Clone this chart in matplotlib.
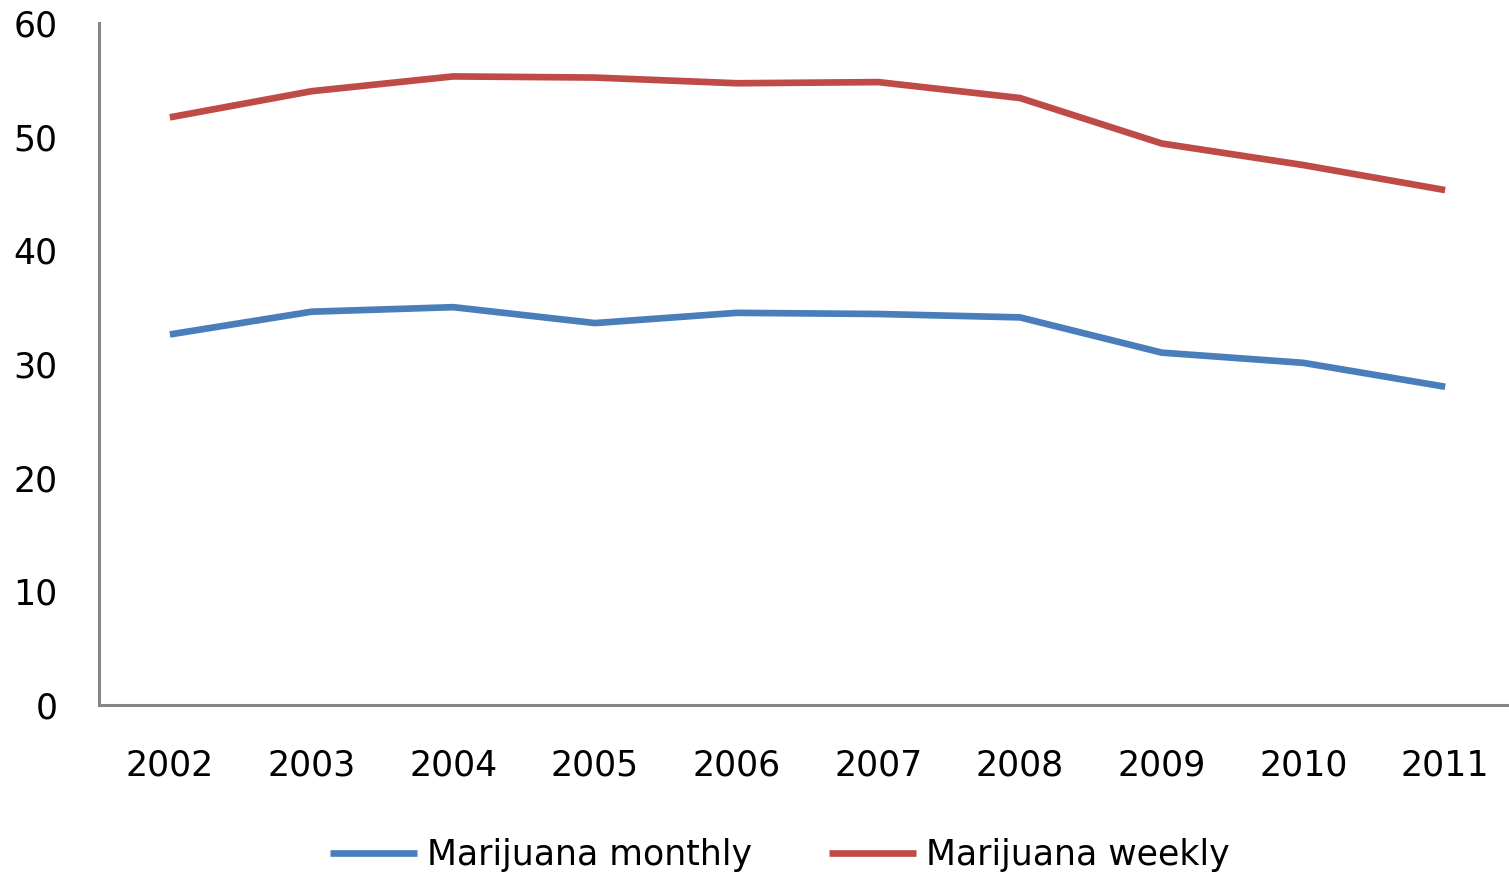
import matplotlib
matplotlib.use('Agg')
import matplotlib.pyplot as plt

years = ['2002', '2003', '2004', '2005', '2006', '2007', '2008', '2009', '2010', '2011']
monthly = [32.6, 34.6, 35.0, 33.6, 34.5, 34.4, 34.1, 31.0, 30.1, 28.0]
weekly = [51.7, 54.0, 55.3, 55.2, 54.7, 54.8, 53.4, 49.4, 47.5, 45.3]

plt.rcParams['font.family'] = ['DejaVu Sans']

fig = plt.figure(figsize=(15.09, 8.74), dpi=100)
ax = fig.add_axes([99 / 1509, 1 - 705 / 874, 1417 / 1509, (705 - 23) / 874])

x = list(range(len(years)))
ax.plot(x, monthly, color='#4A7EBB', lw=4.8, solid_capstyle='butt', solid_joinstyle='round', label='Marijuana monthly')
ax.plot(x, weekly, color='#BE4B48', lw=4.8, solid_capstyle='butt', solid_joinstyle='round', label='Marijuana weekly')

ax.set_xlim(-0.5, len(years) - 0.5)
ax.set_ylim(0, 60)
ax.set_yticks(range(0, 61, 10))
ax.set_xticks(x)
ax.set_xticklabels(years)

for s in ['top', 'right']:
    ax.spines[s].set_visible(False)
for s in ['left', 'bottom']:
    ax.spines[s].set_color('#868686')
    ax.spines[s].set_linewidth(2.2)
ax.tick_params(axis='both', length=0, labelsize=25, labelcolor='black')
ax.tick_params(axis='y', pad=30)
ax.tick_params(axis='x', pad=31)

leg = fig.legend(loc='center', bbox_to_anchor=(780 / 1509, 1 - 855 / 874), ncol=2,
                 frameon=False, fontsize=25, handlelength=2.5, handletextpad=0.3,
                 columnspacing=2.2)

fig.savefig('out.png', dpi=100)
